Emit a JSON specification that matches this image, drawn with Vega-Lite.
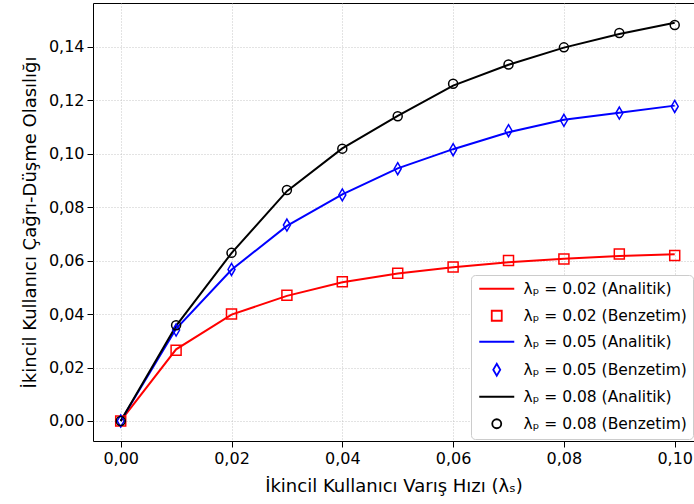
{
  "$schema": "https://vega.github.io/schema/vega-lite/v6.json",
  "width": 601,
  "height": 438,
  "autosize": {"type": "none"},
  "padding": {"left": 93, "top": 3, "right": 0, "bottom": 63},
  "background": "white",
  "config": {
    "view": {"stroke": "black", "strokeWidth": 1},
    "font": "DejaVu Sans",
    "axis": {
      "grid": true, "gridColor": "#b8b8b8", "gridDash": [1, 2], "gridWidth": 0.8,
      "domain": false, "tickColor": "black", "tickSize": 6, "tickWidth": 1,
      "labelFontSize": 16, "labelColor": "black", "labelPadding": 3,
      "titleFontSize": 18, "titleFontWeight": "normal", "titleColor": "black"
    }
  },
  "data": {"values": [
    {"x": 0.00, "y": 0.0000, "series": "λₚ = 0.02 (Analitik)", "kind": "Analitik"},
    {"x": 0.01, "y": 0.0268, "series": "λₚ = 0.02 (Analitik)", "kind": "Analitik"},
    {"x": 0.02, "y": 0.0398, "series": "λₚ = 0.02 (Analitik)", "kind": "Analitik"},
    {"x": 0.03, "y": 0.0468, "series": "λₚ = 0.02 (Analitik)", "kind": "Analitik"},
    {"x": 0.04, "y": 0.0519, "series": "λₚ = 0.02 (Analitik)", "kind": "Analitik"},
    {"x": 0.05, "y": 0.0552, "series": "λₚ = 0.02 (Analitik)", "kind": "Analitik"},
    {"x": 0.06, "y": 0.0575, "series": "λₚ = 0.02 (Analitik)", "kind": "Analitik"},
    {"x": 0.07, "y": 0.0594, "series": "λₚ = 0.02 (Analitik)", "kind": "Analitik"},
    {"x": 0.08, "y": 0.0607, "series": "λₚ = 0.02 (Analitik)", "kind": "Analitik"},
    {"x": 0.09, "y": 0.0617, "series": "λₚ = 0.02 (Analitik)", "kind": "Analitik"},
    {"x": 0.10, "y": 0.0624, "series": "λₚ = 0.02 (Analitik)", "kind": "Analitik"},
    {"x": 0.00, "y": 0.0000, "series": "λₚ = 0.02 (Benzetim)", "kind": "Benzetim"},
    {"x": 0.01, "y": 0.0265, "series": "λₚ = 0.02 (Benzetim)", "kind": "Benzetim"},
    {"x": 0.02, "y": 0.0400, "series": "λₚ = 0.02 (Benzetim)", "kind": "Benzetim"},
    {"x": 0.03, "y": 0.0470, "series": "λₚ = 0.02 (Benzetim)", "kind": "Benzetim"},
    {"x": 0.04, "y": 0.0521, "series": "λₚ = 0.02 (Benzetim)", "kind": "Benzetim"},
    {"x": 0.05, "y": 0.0553, "series": "λₚ = 0.02 (Benzetim)", "kind": "Benzetim"},
    {"x": 0.06, "y": 0.0576, "series": "λₚ = 0.02 (Benzetim)", "kind": "Benzetim"},
    {"x": 0.07, "y": 0.0600, "series": "λₚ = 0.02 (Benzetim)", "kind": "Benzetim"},
    {"x": 0.08, "y": 0.0606, "series": "λₚ = 0.02 (Benzetim)", "kind": "Benzetim"},
    {"x": 0.09, "y": 0.0625, "series": "λₚ = 0.02 (Benzetim)", "kind": "Benzetim"},
    {"x": 0.10, "y": 0.0619, "series": "λₚ = 0.02 (Benzetim)", "kind": "Benzetim"},
    {"x": 0.00, "y": 0.0000, "series": "λₚ = 0.05 (Analitik)", "kind": "Analitik"},
    {"x": 0.01, "y": 0.0345, "series": "λₚ = 0.05 (Analitik)", "kind": "Analitik"},
    {"x": 0.02, "y": 0.0566, "series": "λₚ = 0.05 (Analitik)", "kind": "Analitik"},
    {"x": 0.03, "y": 0.0730, "series": "λₚ = 0.05 (Analitik)", "kind": "Analitik"},
    {"x": 0.04, "y": 0.0848, "series": "λₚ = 0.05 (Analitik)", "kind": "Analitik"},
    {"x": 0.05, "y": 0.0945, "series": "λₚ = 0.05 (Analitik)", "kind": "Analitik"},
    {"x": 0.06, "y": 0.1017, "series": "λₚ = 0.05 (Analitik)", "kind": "Analitik"},
    {"x": 0.07, "y": 0.1080, "series": "λₚ = 0.05 (Analitik)", "kind": "Analitik"},
    {"x": 0.08, "y": 0.1127, "series": "λₚ = 0.05 (Analitik)", "kind": "Analitik"},
    {"x": 0.09, "y": 0.1153, "series": "λₚ = 0.05 (Analitik)", "kind": "Analitik"},
    {"x": 0.10, "y": 0.1180, "series": "λₚ = 0.05 (Analitik)", "kind": "Analitik"},
    {"x": 0.00, "y": 0.0000, "series": "λₚ = 0.05 (Benzetim)", "kind": "Benzetim"},
    {"x": 0.01, "y": 0.0340, "series": "λₚ = 0.05 (Benzetim)", "kind": "Benzetim"},
    {"x": 0.02, "y": 0.0567, "series": "λₚ = 0.05 (Benzetim)", "kind": "Benzetim"},
    {"x": 0.03, "y": 0.0733, "series": "λₚ = 0.05 (Benzetim)", "kind": "Benzetim"},
    {"x": 0.04, "y": 0.0846, "series": "λₚ = 0.05 (Benzetim)", "kind": "Benzetim"},
    {"x": 0.05, "y": 0.0944, "series": "λₚ = 0.05 (Benzetim)", "kind": "Benzetim"},
    {"x": 0.06, "y": 0.1015, "series": "λₚ = 0.05 (Benzetim)", "kind": "Benzetim"},
    {"x": 0.07, "y": 0.1086, "series": "λₚ = 0.05 (Benzetim)", "kind": "Benzetim"},
    {"x": 0.08, "y": 0.1125, "series": "λₚ = 0.05 (Benzetim)", "kind": "Benzetim"},
    {"x": 0.09, "y": 0.1152, "series": "λₚ = 0.05 (Benzetim)", "kind": "Benzetim"},
    {"x": 0.10, "y": 0.1177, "series": "λₚ = 0.05 (Benzetim)", "kind": "Benzetim"},
    {"x": 0.00, "y": 0.0000, "series": "λₚ = 0.08 (Analitik)", "kind": "Analitik"},
    {"x": 0.01, "y": 0.0356, "series": "λₚ = 0.08 (Analitik)", "kind": "Analitik"},
    {"x": 0.02, "y": 0.0628, "series": "λₚ = 0.08 (Analitik)", "kind": "Analitik"},
    {"x": 0.03, "y": 0.0860, "series": "λₚ = 0.08 (Analitik)", "kind": "Analitik"},
    {"x": 0.04, "y": 0.1020, "series": "λₚ = 0.08 (Analitik)", "kind": "Analitik"},
    {"x": 0.05, "y": 0.1142, "series": "λₚ = 0.08 (Analitik)", "kind": "Analitik"},
    {"x": 0.06, "y": 0.1255, "series": "λₚ = 0.08 (Analitik)", "kind": "Analitik"},
    {"x": 0.07, "y": 0.1333, "series": "λₚ = 0.08 (Analitik)", "kind": "Analitik"},
    {"x": 0.08, "y": 0.1397, "series": "λₚ = 0.08 (Analitik)", "kind": "Analitik"},
    {"x": 0.09, "y": 0.1448, "series": "λₚ = 0.08 (Analitik)", "kind": "Analitik"},
    {"x": 0.10, "y": 0.1490, "series": "λₚ = 0.08 (Analitik)", "kind": "Analitik"},
    {"x": 0.00, "y": 0.0000, "series": "λₚ = 0.08 (Benzetim)", "kind": "Benzetim"},
    {"x": 0.01, "y": 0.0358, "series": "λₚ = 0.08 (Benzetim)", "kind": "Benzetim"},
    {"x": 0.02, "y": 0.0629, "series": "λₚ = 0.08 (Benzetim)", "kind": "Benzetim"},
    {"x": 0.03, "y": 0.0864, "series": "λₚ = 0.08 (Benzetim)", "kind": "Benzetim"},
    {"x": 0.04, "y": 0.1019, "series": "λₚ = 0.08 (Benzetim)", "kind": "Benzetim"},
    {"x": 0.05, "y": 0.1140, "series": "λₚ = 0.08 (Benzetim)", "kind": "Benzetim"},
    {"x": 0.06, "y": 0.1262, "series": "λₚ = 0.08 (Benzetim)", "kind": "Benzetim"},
    {"x": 0.07, "y": 0.1334, "series": "λₚ = 0.08 (Benzetim)", "kind": "Benzetim"},
    {"x": 0.08, "y": 0.1398, "series": "λₚ = 0.08 (Benzetim)", "kind": "Benzetim"},
    {"x": 0.09, "y": 0.1452, "series": "λₚ = 0.08 (Benzetim)", "kind": "Benzetim"},
    {"x": 0.10, "y": 0.1482, "series": "λₚ = 0.08 (Benzetim)", "kind": "Benzetim"}
  ]},
  "encoding": {
    "x": {
      "field": "x", "type": "quantitative",
      "scale": {"domain": [-0.005, 0.10348], "nice": false, "zero": false},
      "axis": {
        "values": [0, 0.02, 0.04, 0.06, 0.08, 0.1],
        "labelExpr": "replace(format(datum.value, '.2f'), '.', ',')",
        "title": "İkincil Kullanıcı Varış Hızı (λₛ)",
        "titlePadding": 11
      }
    },
    "y": {
      "field": "y", "type": "quantitative",
      "scale": {"domain": [-0.0075, 0.1564], "nice": false, "zero": false},
      "axis": {
        "values": [0, 0.02, 0.04, 0.06, 0.08, 0.1, 0.12, 0.14],
        "labelExpr": "replace(format(datum.value, '.2f'), '.', ',')",
        "title": "İkincil Kullanıcı Çağrı-Düşme Olasılığı",
        "titlePadding": 9
      }
    },
    "color": {
      "field": "series", "type": "nominal",
      "scale": {
        "domain": ["λₚ = 0.02 (Analitik)", "λₚ = 0.02 (Benzetim)", "λₚ = 0.05 (Analitik)", "λₚ = 0.05 (Benzetim)", "λₚ = 0.08 (Analitik)", "λₚ = 0.08 (Benzetim)"],
        "range": ["#ff0000", "#ff0000", "#0000ff", "#0000ff", "#000000", "#000000"]
      },
      "legend": {
        "title": null, "orient": "none", "legendX": 378, "legendY": 272,
        "fillColor": "white", "strokeColor": "#cccccc", "cornerRadius": 4, "padding": 6,
        "labelFontSize": 15.5, "labelColor": "black", "labelOffset": 19, "symbolOffset": 12,
        "symbolSize": 100, "symbolStrokeWidth": 1.8, "rowPadding": 9, "labelLimit": 300
      }
    }
  },
  "layer": [
    {
      "transform": [{"filter": "datum.kind === 'Analitik'"}],
      "mark": {"type": "line", "strokeWidth": 2, "clip": true}
    },
    {
      "transform": [{"filter": "datum.kind === 'Benzetim'"}],
      "mark": {"type": "point", "filled": false, "strokeWidth": 1.5, "size": 100, "opacity": 1, "clip": true},
      "encoding": {
        "shape": {
          "field": "series", "type": "nominal",
          "scale": {
            "domain": ["λₚ = 0.02 (Analitik)", "λₚ = 0.02 (Benzetim)", "λₚ = 0.05 (Analitik)", "λₚ = 0.05 (Benzetim)", "λₚ = 0.08 (Analitik)", "λₚ = 0.08 (Benzetim)"],
            "range": ["M-3.5,0H3.5", "M-1,-1H1V1H-1Z", "M-3.5,0H3.5", "M0,-1.2L0.7,0L0,1.2L-0.7,0Z", "M-3.5,0H3.5", "M0.9,0A0.9,0.9,0,1,1,-0.9,0A0.9,0.9,0,1,1,0.9,0Z"]
          },
          "legend": {
            "title": null, "orient": "none", "legendX": 378, "legendY": 272,
            "fillColor": "white", "strokeColor": "#cccccc", "cornerRadius": 4, "padding": 6,
            "labelFontSize": 15.5, "labelColor": "black", "labelOffset": 19, "symbolOffset": 12,
            "symbolSize": 100, "symbolStrokeWidth": 1.8, "rowPadding": 9, "labelLimit": 300
          }
        }
      }
    }
  ]
}
